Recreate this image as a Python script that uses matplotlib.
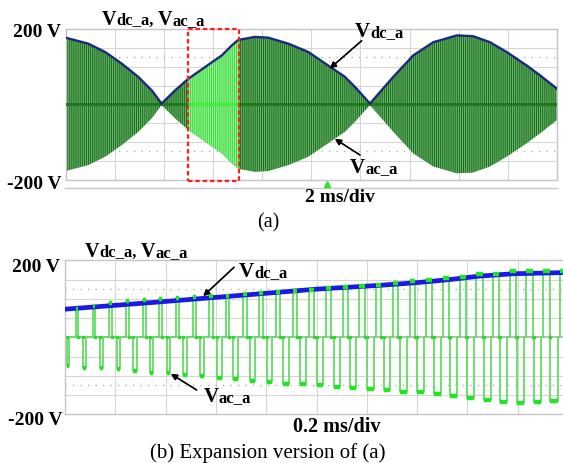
import numpy as np
import matplotlib.pyplot as plt
from matplotlib.patches import Rectangle
from matplotlib.lines import Line2D

plt.rcParams['font.family'] = ['Liberation Serif', 'DejaVu Serif']
plt.rcParams['hatch.linewidth'] = 0.75

W, H = 563, 464

# (a) 2 ms/div : Vdc_a envelope (ms, V)
t_a = [0.0, 0.93, 1.61, 2.29, 2.96, 3.51, 3.91, 4.46, 5.0, 5.68, 6.36, 6.76, 7.03, 7.71,
       8.25, 9.07, 9.88, 10.69, 11.37, 11.78, 12.39, 13.34, 14.15, 14.97, 15.24, 15.92,
       16.58, 17.27, 17.95, 18.77, 19.31, 19.99]
vdc_a = [177, 161, 139, 108, 73, 37, 2, 37, 68, 99, 130, 156, 171, 179,
         177, 161, 139, 103, 73, 46, 2, 73, 130, 165, 170, 183,
         181, 165, 139, 103, 77, 42]
zoom_ms = (4.97, 7.07)

# (b) 0.2 ms/div : expansion of the red box
t_b = [0.0, 0.378, 0.775, 0.998, 1.252, 1.40, 1.531, 1.65, 1.781, 1.98, 2.0]
vdc_b = [73, 92, 113, 125, 135, 142, 150, 159, 165, 168, 168]

carrier_us = 66.3      # ~15 kHz switching
first_neg_us = 6.8
pos_delay_us = 37.0
neg_w_us = [11, 11, 11, 12, 13, 13, 13, 16, 17, 19, 20, 20, 20, 23, 24, 24, 24, 25, 27, 27,
            27, 28, 29, 28, 28, 28, 28, 29, 31, 29]
pos_w_us = [9, 9, 12, 12, 12, 12, 12, 13, 13, 13, 16, 16, 17, 17, 19, 19, 20, 20, 20, 20,
            23, 25, 23, 27, 27, 24, 27, 27, 29, 28]
neg_lvl = [-74, -79, -81, -83, -87, -92, -94, -99, -101, -105, -109, -113, -116, -120, -122,
           -125, -129, -132, -135, -138, -141, -143, -146, -152, -157, -164, -167, -170, -167, -165]
pos_lvl = [73, 81, 88, 93, 97, 99, 103, 104, 107, 108, 112, 114, 117, 120, 123, 127, 130, 133,
           137, 142, 146, 148, 153, 157, 164, 165, 171, 172, 172, 172]

fig = plt.figure(figsize=(W / 100, H / 100), dpi=100)


def box(l, t, r, b):
    return [l / W, 1 - b / H, (r - l) / W, (b - t) / H]


def scope_grid(ax, xmax, ndiv, center_col):
    ax.set_xlim(0, xmax)
    ax.set_ylim(-200, 200)
    ax.set_xticks([])
    ax.set_yticks([])
    for i in range(1, ndiv):
        ax.axvline(xmax * i / ndiv, color='#d6d6d6', lw=0.8, zorder=0)
    for v in (-150, -100, -50, 50, 100, 150):
        ax.axhline(v, color='#d6d6d6', lw=0.8, zorder=0)
    ax.axhline(0, color=center_col, lw=1.1, zorder=0)
    for v in (125, -125):
        ax.axhline(v, color='#a8a8a8', lw=0.9, ls=(0, (1, 5)), zorder=0)
    for s in ax.spines.values():
        s.set_color('#c4c4c4')
        s.set_linewidth(1)


# ---------- panel (a) ----------
ax1 = fig.add_axes(box(65.5, 30, 557, 180.7))
scope_grid(ax1, 20, 10, '#c8c8c8')
lo = [-v for v in vdc_a]
ax1.fill_between(t_a, lo, vdc_a, facecolor='#72b372', edgecolor='#146f18',
                 hatch='|' * 8, linewidth=0, zorder=2)
hi = ax1.fill_between(t_a, lo, vdc_a, facecolor='#a9eca9', edgecolor='#2fe02f',
                      hatch='|' * 8, linewidth=0, zorder=3)
clip = Rectangle((zoom_ms[0], -250), zoom_ms[1] - zoom_ms[0], 500, transform=ax1.transData)
hi.set_clip_path(clip)
ax1.axhline(0, color='#1d7a1d', lw=2.2, zorder=4)
ax1.hlines(0, zoom_ms[0], zoom_ms[1], color='#3cf03c', lw=2.2, zorder=4)
ax1.plot(t_a, vdc_a, color='#1b2a7c', lw=1.7, zorder=5)
ax1.add_patch(Rectangle((zoom_ms[0], -203), zoom_ms[1] - zoom_ms[0], 403, fill=False,
                        ec='#ff1f1f', lw=1.6, ls=(0, (2, 1.3)), clip_on=False, zorder=6))

# ---------- panel (b) ----------
ax2 = fig.add_axes(box(65, 261.3, 568, 415.3))
scope_grid(ax2, 2.0, 10, '#aaaaaa')
tw, vw = [0.0], [0.0]
marks_t = []
for k in range(len(neg_w_us)):
    ns = (first_neg_us + k * carrier_us) / 1000
    ps = ns + pos_delay_us / 1000
    nw = neg_w_us[k] / 1000
    pw = pos_w_us[k] / 1000
    tw += [ns, ns, ns + nw, ns + nw, ps, ps, ps + pw, ps + pw]
    vw += [0, neg_lvl[k], neg_lvl[k], 0, 0, pos_lvl[k], pos_lvl[k], 0]
    marks_t += [ns, ps + pw]
tw.append(2.0)
vw.append(0)
ax2.plot(tw, vw, color='#62dc62', lw=1.3, zorder=2)
ax2.plot(marks_t, [0] * len(marks_t), ls='none', marker='s', ms=2, color='#2fd82f', zorder=2)
ax2.plot(t_b, vdc_b, color='#1a1ae8', lw=3.4, zorder=3)
starts_n = [(first_neg_us + k * carrier_us) / 1000 for k in range(len(neg_w_us))]
starts_p = [s + pos_delay_us / 1000 for s in starts_n]
ax2.hlines(neg_lvl, starts_n, [s + w / 1000 for s, w in zip(starts_n, neg_w_us)],
           color='#1fe61f', lw=3.2, zorder=4)
ax2.hlines(pos_lvl, starts_p, [s + w / 1000 for s, w in zip(starts_p, pos_w_us)],
           color='#1fe61f', lw=3.2, zorder=4)

# ---------- texts ----------
fig.canvas.draw()
rend = fig.canvas.get_renderer()


def txt(x, y, s, size, weight='bold', ha='left'):
    return fig.text(x / W, 1 - y / H, s, fontsize=size, fontweight=weight, ha=ha, va='baseline')


def rich(x, y, parts):
    for s, size, gap in parts:
        t = txt(x, y, s, size)
        x = t.get_window_extent(rend).x1 + gap


def arrow(x0, y0, x1, y1):
    fig.add_artist(plt.annotate('', xy=(x1, H - y1), xytext=(x0, H - y0), xycoords='figure pixels',
                                arrowprops=dict(arrowstyle='-|>', color='k', lw=1,
                                                mutation_scale=9, shrinkA=0, shrinkB=0)))


dc = [('V', 15, 0.3), ('dc_a', 12, 0)]
ac = [('V', 15, 0.3), ('ac_a', 12, 0)]
both = [('V', 14.5, 0.3), ('dc_a,', 12, 3.5), ('V', 14.5, 0.3), ('ac_a', 12, 0)]

txt(61, 36.7, '200 V', 14, ha='right')
txt(62, 189, '-200 V', 14, ha='right')
rich(101.7, 25, both)
rich(355, 37, dc)
arrow(361.7, 41.7, 330, 69.3)
rich(350, 173.3, ac)
arrow(360, 156, 335, 140)
txt(305, 201.7, '2 ms/div', 14)
txt(268, 227, '(a)', 14.5, weight='normal', ha='center')
fig.add_artist(Line2D([65 / W, 557 / W], [1 - 189.3 / H] * 2, color='#c8c8c8', lw=1))
fig.add_artist(Line2D([327 / W], [1 - 184.5 / H], marker='^', ms=4.5, color='#2ee62e', ls='none'))

txt(60, 272, '200 V', 14, ha='right')
txt(63, 425, '-200 V', 14, ha='right')
rich(85, 256.7, both)
rich(239, 276.7, dc)
arrow(234, 268.3, 203.3, 297)
rich(203.3, 401.7, ac)
arrow(196.7, 391, 171, 375)
txt(293.3, 431.7, '0.2 ms/div', 14.5)
txt(268, 458, '(b) Expansion version of (a)', 15, weight='normal', ha='center')

fig.savefig('out.png', dpi=100)
